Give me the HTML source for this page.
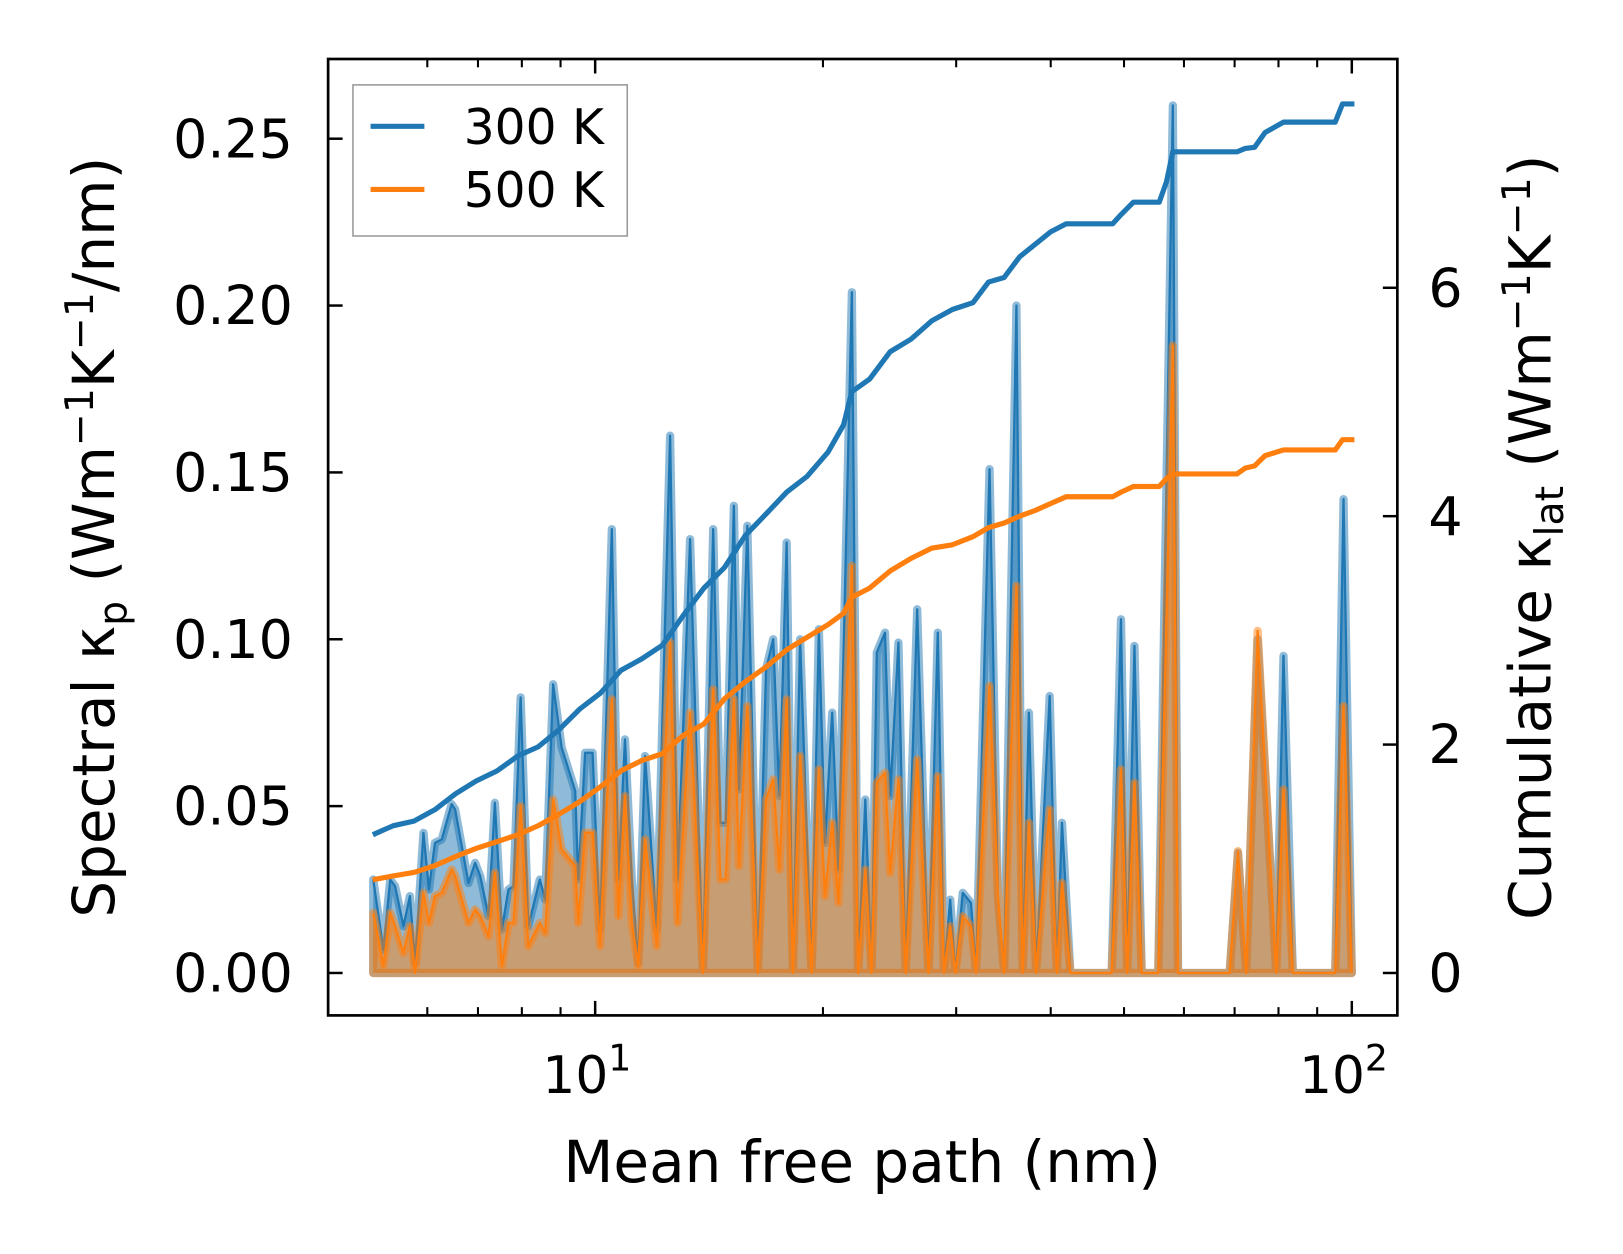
<!DOCTYPE html>
<html><head><meta charset="utf-8"><style>
html,body{margin:0;padding:0;background:#fff;}
svg{display:block;}
text{font-family:"DejaVu Sans","Liberation Sans",sans-serif;fill:#000;}
</style></head><body>
<svg id="chart" width="1623" height="1254" viewBox="0 0 1568 1211.5" xmlns="http://www.w3.org/2000/svg">
<g id="plot"></g>
<g id="axes"></g>
<g id="legend">
  <rect x="341" y="82" width="265" height="146" fill="#fff" stroke="#999" stroke-width="1.5"/>
  <g>
    <line x1="358" y1="122" x2="410" y2="122" stroke="#1f77b4" stroke-width="5"/>
    <text x="448" y="139" font-size="47">300 K</text>
  </g>
  <g>
    <line x1="358" y1="183" x2="410" y2="183" stroke="#ff7f0e" stroke-width="5"/>
    <text x="448" y="200" font-size="47">500 K</text>
  </g>
</g>
<text x="833" y="1142" font-size="56" text-anchor="middle">Mean free path (nm)</text>
<text transform="translate(110,519) rotate(-90)" font-size="56" text-anchor="middle">Spectral κ<tspan font-size="38" dy="12">p</tspan><tspan dy="-12"> (Wm</tspan><tspan font-size="38" dy="-20">−1</tspan><tspan dy="20">K</tspan><tspan font-size="38" dy="-20">−1</tspan><tspan dy="20">/nm)</tspan></text>
<text transform="translate(1498,519) rotate(-90)" font-size="56" text-anchor="middle">Cumulative κ<tspan font-size="38" dy="12">lat</tspan><tspan dy="-12"> (Wm</tspan><tspan font-size="38" dy="-20">−1</tspan><tspan dy="20">K</tspan><tspan font-size="38" dy="-20">−1</tspan><tspan dy="20">)</tspan></text>
</svg>
<script>
const mfp = [5.09,5.25,5.36,5.44,5.58,5.69,5.78,5.93,6.03,6.14,6.27,6.46,6.53,6.80,6.94,7.05,7.23,7.37,7.53,7.68,7.80,7.97,8.16,8.45,8.59,8.80,9.03,9.41,9.50,9.70,9.92,10.15,10.52,10.73,10.95,11.18,11.40,11.64,12.06,12.56,12.85,13.35,13.88,14.32,14.64,14.87,15.25,15.49,15.89,16.40,16.82,17.19,17.52,17.91,18.25,18.66,19.32,19.75,20.12,20.57,20.97,21.84,22.26,22.75,23.19,23.56,24.16,24.54,25.17,25.73,26.64,27.57,28.37,28.91,29.46,29.93,30.60,31.38,31.87,33.21,34.06,34.71,36.04,36.73,37.43,38.26,39.87,40.75,41.40,42.46,48.16,49.54,50.48,51.61,52.76,55.48,58.00,58.92,68.96,70.72,72.53,75.08,79.46,81.24,83.57,95.1,97.5,100];
const spec300 = [0.028,0.007,0.028,0.026,0.014,0.023,0.003,0.042,0.025,0.039,0.040,0.0506,0.049,0.027,0.033,0.029,0.017,0.051,0.013,0.025,0.026,0.0826,0.014,0.028,0.022,0.0865,0.0676,0.0546,0.028,0.066,0.066,0.013,0.133,0.028,0.070,0.028,0.003,0.065,0.013,0.161,0.028,0.130,0,0.133,0.045,0.045,0.140,0.055,0.134,0,0.091,0.100,0.053,0.129,0,0.100,0,0.103,0.039,0.078,0.031,0.204,0,0.052,0,0.096,0.102,0.053,0.099,0,0.109,0,0.102,0,0.022,0,0.024,0.021,0,0.151,0.023,0,0.200,0,0.078,0,0.083,0,0.045,0,0,0.106,0,0.098,0,0,0.260,0,0,0.036,0,0.100,0,0.095,0,0,0.142,0];
const spec500 = [0.018,0.002,0.018,0.014,0.006,0.014,0,0.024,0.015,0.023,0.024,0.031,0.029,0.015,0.019,0.017,0.011,0.030,0.002,0.015,0.015,0.050,0.008,0.015,0.012,0.052,0.037,0.032,0.015,0.042,0.042,0.008,0.082,0.017,0.053,0.015,0.002,0.040,0.008,0.099,0.015,0.078,0,0.085,0.028,0.028,0.082,0.032,0.080,0,0.052,0.058,0.031,0.082,0,0.065,0,0.061,0.023,0.045,0.021,0.122,0,0.031,0,0.057,0.060,0.030,0.058,0,0.064,0,0.059,0,0.014,0,0.017,0.014,0,0.086,0.023,0,0.116,0,0.045,0,0.049,0,0.027,0,0,0.061,0,0.057,0,0,0.188,0,0,0.0365,0,0.1025,0,0.055,0,0,0.080,0];
const cumMfp = [5.12,5.41,5.76,6.14,6.54,6.96,7.42,7.90,8.41,8.96,9.54,10.16,10.82,11.52,12.27,13.07,13.92,14.82,15.79,16.82,17.91,19.07,20.31,21.30,21.84,23.05,24.54,26.14,27.84,29.65,31.57,33.10,34.71,36.38,38.14,39.99,41.92,48.3,49.54,51.45,55.66,56.90,58.0,70.5,72.3,74.4,76.8,81.24,95.1,97.2,100];
const cum300 = [1.22,1.29,1.33,1.43,1.57,1.68,1.77,1.90,1.98,2.13,2.31,2.45,2.65,2.75,2.87,3.13,3.37,3.55,3.83,4.02,4.21,4.35,4.56,4.80,5.09,5.20,5.44,5.55,5.71,5.81,5.87,6.05,6.09,6.27,6.38,6.49,6.56,6.56,6.64,6.75,6.75,6.93,7.19,7.19,7.22,7.23,7.36,7.45,7.45,7.61,7.61];
const cum500 = [0.82,0.85,0.88,0.94,1.02,1.09,1.15,1.21,1.29,1.39,1.50,1.63,1.77,1.86,1.92,2.08,2.18,2.40,2.55,2.68,2.83,2.94,3.05,3.15,3.29,3.37,3.52,3.63,3.72,3.75,3.82,3.90,3.94,4.00,4.05,4.11,4.17,4.17,4.21,4.26,4.26,4.33,4.37,4.37,4.42,4.44,4.53,4.58,4.58,4.67,4.67];
const leftTicks = [0,0.05,0.10,0.15,0.20,0.25];
const leftTickLabels = ["0.00","0.05","0.10","0.15","0.20","0.25"];
const rightTicks = [0,2,4,6];
const xMajor = [10,100];
const xMinor = [6,7,8,9,20,30,40,50,60,70,80,90];

const L=317,R=1350,T=57,B=981;
const xs = v => 575 + (Math.log10(v)-1)*731;
const yl = v => 940 - v*3224;
const yr = v => 940 - v*110.33;
const NS="http://www.w3.org/2000/svg";
const plot=document.getElementById('plot'), axes=document.getElementById('axes');
function mk(tag,attrs,parent){const e=document.createElementNS(NS,tag);for(const k in attrs)e.setAttribute(k,attrs[k]);parent.appendChild(e);return e;}

function drawSpec(vals,color,name){
  let pts=mfp.map((m,i)=>xs(m).toFixed(1)+','+yl(vals[i]).toFixed(1));
  const poly=[xs(mfp[0]).toFixed(1)+','+yl(0)].concat(pts,[xs(mfp[mfp.length-1]).toFixed(1)+','+yl(0)]).join(' ');
  const f=mk('polygon',{points:poly,fill:color,'fill-opacity':0.5,stroke:color,'stroke-opacity':0.5,'stroke-width':8,'stroke-linejoin':'round'},plot);
  
  
  const l=mk('polyline',{points:pts.join(' '),fill:'none',stroke:color,'stroke-width':2.2,'stroke-linejoin':'round'},plot);
  
  
}
drawSpec(spec300,'#1f77b4','spectral-300k');
drawSpec(spec500,'#ff7f0e','spectral-500k');
function drawCum(vals,color,name){
  const pts=cumMfp.map((m,i)=>xs(m).toFixed(1)+','+yr(vals[i]).toFixed(1)).join(' ');
  const l=mk('polyline',{points:pts,fill:'none',stroke:color,'stroke-width':5,'stroke-linejoin':'round','stroke-linecap':'square'},plot);
  
  
}
drawCum(cum300,'#1f77b4','cumulative-300k');
drawCum(cum500,'#ff7f0e','cumulative-500k');

const frame=mk('rect',{x:L,y:T,width:R-L,height:B-T,fill:'none',stroke:'#000','stroke-width':2.6},axes);


leftTicks.forEach((v,i)=>{
  const y=yl(v);
  const t=mk('line',{x1:L,y1:y,x2:L+14,y2:y,stroke:'#000','stroke-width':2.4},axes);
  
  
  const lb=mk('text',{x:283,y:y+18,'font-size':52,'text-anchor':'end'},axes);
  lb.textContent=leftTickLabels[i];
  
  
});
rightTicks.forEach(v=>{
  const y=yr(v);
  const t=mk('line',{x1:R-14,y1:y,x2:R,y2:y,stroke:'#000','stroke-width':2.4},axes);
  
  
  const lb=mk('text',{x:1380,y:y+18,'font-size':52},axes);
  lb.textContent=String(v);
  
  
});
xMajor.forEach(v=>{
  const x=xs(v);
  [[B,B-14],[T,T+14]].forEach(p=>{
    const t=mk('line',{x1:x,y1:p[0],x2:x,y2:p[1],stroke:'#000','stroke-width':2.4},axes);
    
    
  });
  const lb=mk('text',{x:x-8,y:1056,'font-size':50,'text-anchor':'middle'},axes);
  lb.innerHTML='10<tspan font-size="35" dy="-22">'+Math.round(Math.log10(v))+'</tspan>';
  
  
});
xMinor.forEach(v=>{
  const x=xs(v);
  [[B,B-8],[T,T+8]].forEach(p=>{
    const t=mk('line',{x1:x,y1:p[0],x2:x,y2:p[1],stroke:'#000','stroke-width':2},axes);
    
    
  });
});
</script>
</body></html>
